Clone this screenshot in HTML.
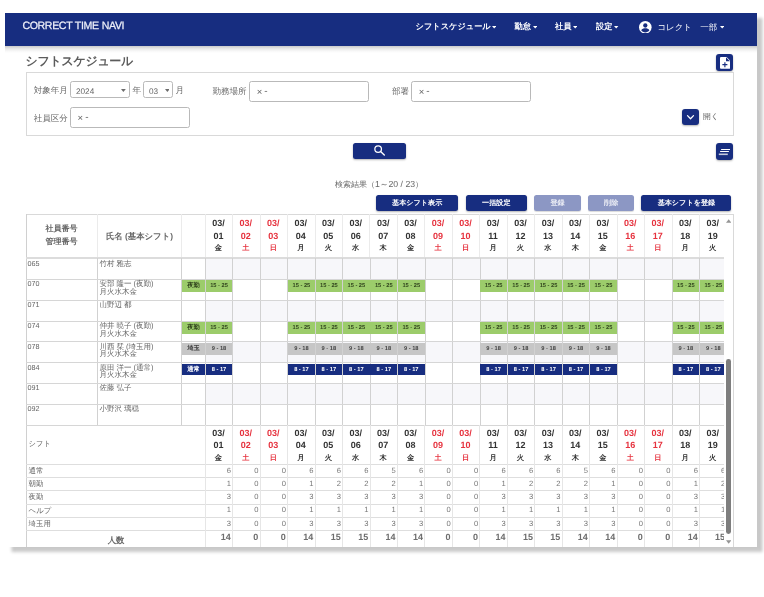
<!DOCTYPE html>
<html lang="ja"><head><meta charset="utf-8"><title>シフトスケジュール</title>
<style>
*{box-sizing:border-box}
html,body{margin:0;padding:0;background:#fff}
body{filter:blur(.35px);text-rendering:geometricPrecision;width:764px;height:597px;overflow:hidden;position:relative;font-family:"Liberation Sans",sans-serif;color:#666}
.a{position:absolute}
#frame{left:5px;top:13px;width:752.4px;height:534.4px;background:#fff;box-shadow:5.5px 5px 3px rgba(0,0,0,.215)}
#nav{left:5px;top:13px;width:752.4px;height:32.7px;background:#172d80}
#navsh{left:5px;top:45.7px;width:752.4px;height:7px;background:linear-gradient(rgba(0,0,0,.21),rgba(0,0,0,.1) 35%,rgba(0,0,0,.03) 70%,rgba(0,0,0,0))}
.nt{color:#fff;font-size:8.2px;font-weight:bold;line-height:10px;white-space:nowrap;top:21.8px}
.car{display:inline-block;width:0;height:0;border-left:2.5px solid transparent;border-right:2.5px solid transparent;border-top:2.9px solid #fff;vertical-align:middle;margin-left:1px}
#brand{left:22.4px;top:20.2px;color:#eceef8;font-size:10.6px;line-height:13px;letter-spacing:-.36px;word-spacing:.4px;-webkit-text-stroke:.25px #eceef8;white-space:nowrap}
#title{left:25.5px;top:53.6px;font-size:12px;font-weight:bold;color:#5c5c5c;line-height:15px;white-space:nowrap;letter-spacing:-.3px}
.ib{background:#172d80;border-radius:3px;box-shadow:0 1px 2px rgba(0,0,0,.3)}
#panel{left:26px;top:72px;width:708px;height:64px;border:1px solid #d9d9d9;background:#fff}
.lb{font-size:8.5px;line-height:10px;color:#666;white-space:nowrap}
.inp{border:1px solid #b9b9b9;border-radius:2.5px;background:#fff;font-size:7.5px;color:#666;line-height:10px;white-space:nowrap}
.btn{background:#172d80;border-radius:2.5px;color:#fff;font-size:7.1px;font-weight:bold;text-align:center;line-height:16px;height:16.2px;top:195px;white-space:nowrap;box-shadow:0 1px 2px rgba(0,0,0,.3)}
.btn.dis{color:rgba(255,255,255,.82);background:#8c97c4;box-shadow:0 1px 1px rgba(0,0,0,.15)}
.vl{width:1px;background:#d4d4d4}
.hl{height:1px;background:#d9d9d9}
.hd{font-size:9px;font-weight:bold;color:#333;text-align:center;line-height:12.3px;width:27.4px;white-space:nowrap}
.hd.r{color:#e6323e}
.hd i{font-style:normal;font-size:7.2px;position:relative;top:-1px}
.t{font-size:7.2px;line-height:7.6px;color:#666;white-space:nowrap}
.tag{font-weight:bold;font-size:5.7px;line-height:12.7px;height:11.8px;text-align:center;white-space:nowrap;overflow:hidden}
.g{background:#9ccc6b;color:#33471f}
.s{background:#c6c6c6;color:#444}
.n{background:#172d80;color:#fff}
.num{font-size:7.6px;line-height:10px;color:#777;text-align:right;white-space:nowrap}
.tot{font-size:9px;font-weight:bold;line-height:11px;color:#6e6e6e;text-align:right;white-space:nowrap}
.stripe{background:#f7f7fa}
</style></head>
<body>
<div class="a" id="frame"></div>
<div class="a" id="navsh"></div>
<div class="a" id="nav"></div>
<div class="a" id="brand">CORRECT TIME NAVI</div>
<div class="a nt" style="left:415.5px">シフトスケジュール</div>
<div class="a nt" style="left:514.5px">勤怠</div>
<div class="a nt" style="left:555px">社員</div>
<div class="a nt" style="left:596px">設定</div>
<svg class="a" style="left:491.6px;top:26px" width="4.4" height="2.6" viewBox="0 0 4.8 2.8"><path d="M0 0h4.8L2.4 2.8z" fill="#fff"/></svg>
<svg class="a" style="left:532.6px;top:26px" width="4.4" height="2.6" viewBox="0 0 4.8 2.8"><path d="M0 0h4.8L2.4 2.8z" fill="#fff"/></svg>
<svg class="a" style="left:573.1px;top:26px" width="4.4" height="2.6" viewBox="0 0 4.8 2.8"><path d="M0 0h4.8L2.4 2.8z" fill="#fff"/></svg>
<svg class="a" style="left:614.2px;top:26px" width="4.4" height="2.6" viewBox="0 0 4.8 2.8"><path d="M0 0h4.8L2.4 2.8z" fill="#fff"/></svg>
<svg class="a" style="left:720.1px;top:26px" width="4.4" height="2.6" viewBox="0 0 4.8 2.8"><path d="M0 0h4.8L2.4 2.8z" fill="#fff"/></svg>
<svg class="a" style="left:639.2px;top:20.5px" width="12.6" height="12.6" viewBox="0 0 24 24"><circle cx="12" cy="12" r="12" fill="#fff"/><circle cx="12" cy="8.6" r="4.1" fill="#172d80"/><path d="M4.2 17.6c1.6-2.7 4.6-3.7 7.8-3.7s6.2 1 7.8 3.7c-1.7 2.5-4.6 4.1-7.8 4.1s-6.1-1.6-7.8-4.1z" fill="#172d80"/></svg>
<div class="a nt" style="left:657.4px;font-weight:normal;font-size:8.45px;top:21.6px">コレクト　一部</div>
<div class="a" id="title">シフトスケジュール</div>
<div class="a ib" style="left:716px;top:54.4px;width:16.6px;height:16.6px"></div>
<svg class="a" style="left:719.6px;top:56.8px" width="10.2" height="11.8" viewBox="0 0 10.2 11.8"><path d="M1 0h5.6l3.6 3.6v7.2a1 1 0 0 1-1 1H1a1 1 0 0 1-1-1V1a1 1 0 0 1 1-1z" fill="#fff"/><path d="M6 0.3v3.9h3.9z" fill="#172d80"/><path d="M4.9 5.2v5M2.4 7.7h5" stroke="#172d80" stroke-width="1.15" fill="none"/></svg>
<div class="a" id="panel"></div>
<div class="a lb" style="left:33.8px;top:84.6px">対象年月</div>
<div class="a inp" style="left:70px;top:81.4px;width:59.6px;height:16.8px;padding:4.4px 0 0 5px;font-size:8.2px">2024</div>
<svg class="a" style="left:120.9px;top:88.7px" width="4.8" height="3" viewBox="0 0 4.8 3"><path d="M0 0h4.8L2.4 3z" fill="#6c6c6c"/></svg>
<div class="a lb" style="left:132.5px;top:84.6px">年</div>
<div class="a inp" style="left:143px;top:81.4px;width:30.2px;height:16.8px;padding:4.4px 0 0 5px;font-size:8.2px">03</div>
<svg class="a" style="left:164.6px;top:88.7px" width="4.8" height="3" viewBox="0 0 4.8 3"><path d="M0 0h4.8L2.4 3z" fill="#6c6c6c"/></svg>
<div class="a lb" style="left:175.5px;top:84.6px">月</div>
<div class="a lb" style="left:212.5px;top:86.2px">勤務場所</div>
<div class="a inp" style="left:249.2px;top:81.4px;width:119.6px;height:20.4px;padding:5.4px 0 0 6.6px"><span style="font-size:9.5px;line-height:9px;position:relative;top:.4px">×</span><span style="font-size:10px;line-height:9px;position:relative;top:-.5px;left:2px">-</span></div>
<div class="a lb" style="left:392px;top:86.2px">部署</div>
<div class="a inp" style="left:411.2px;top:81.4px;width:119.6px;height:20.4px;padding:5.4px 0 0 6.6px"><span style="font-size:9.5px;line-height:9px;position:relative;top:.4px">×</span><span style="font-size:10px;line-height:9px;position:relative;top:-.5px;left:2px">-</span></div>
<div class="a lb" style="left:33.8px;top:112.6px">社員区分</div>
<div class="a inp" style="left:70px;top:107px;width:119.6px;height:20.6px;padding:5.2px 0 0 6.6px"><span style="font-size:9.5px;line-height:9px;position:relative;top:.4px">×</span><span style="font-size:10px;line-height:9px;position:relative;top:-.5px;left:2px">-</span></div>
<div class="a ib" style="left:681.9px;top:108.8px;width:16.7px;height:16.4px"></div>
<svg class="a" style="left:685.9px;top:113.6px" width="9" height="7" viewBox="0 0 9 7"><path d="M1.5 1.6l3 3.2 3-3.2" stroke="#fff" stroke-width="1.25" fill="none" stroke-linecap="round" stroke-linejoin="round"/></svg>
<div class="a lb" style="left:703px;top:111.6px;font-size:7.8px;color:#666">開く</div>
<div class="a ib" style="left:353px;top:143px;width:53.2px;height:16px;border-radius:2.5px"></div>
<svg class="a" style="left:373.2px;top:144px" width="13" height="13" viewBox="0 0 13 13"><circle cx="5.15" cy="5.05" r="3.3" stroke="#fff" stroke-width="1.25" fill="none"/><path d="M7.6 7.5l3.7 3.5" stroke="#fff" stroke-width="1.4" stroke-linecap="round"/></svg>
<div class="a ib" style="left:716px;top:143px;width:16.6px;height:17px"></div>
<svg class="a" style="left:716px;top:143px" width="16.6" height="17" viewBox="0 0 16.6 17"><path d="M5.1 6.5h8.9M4.1 8.5h8.8" stroke="#fff" stroke-width="1.1"/><path d="M2.8 11.3h9" stroke="#c3c8dc" stroke-width="1.6"/></svg>
<div class="a lb" style="left:335px;top:178.8px;font-size:8px;color:#666">検索結果（<span style="font-size:8.7px">1～20 / 23</span>）</div>
<div class="a btn" style="left:376.2px;width:82px">基本シフト表示</div>
<div class="a btn" style="left:465.8px;width:61px">一括設定</div>
<div class="a btn dis" style="left:534.4px;width:46.4px">登録</div>
<div class="a btn dis" style="left:588px;width:46.4px">削除</div>
<div class="a btn" style="left:641.4px;width:90px">基本シフトを登録</div>
<div class="a stripe" style="left:205.2px;top:258.60px;width:521.1px;height:20.82px"></div>
<div class="a stripe" style="left:205.2px;top:300.24px;width:521.1px;height:20.82px"></div>
<div class="a stripe" style="left:205.2px;top:341.88px;width:521.1px;height:20.82px"></div>
<div class="a stripe" style="left:205.2px;top:383.52px;width:521.1px;height:20.82px"></div>
<div class="a hl" style="left:26px;top:214px;width:708px"></div>
<div class="a vl" style="left:26px;top:214px;height:333.4px;background:#d0d0d0"></div>
<div class="a vl" style="left:733.3px;top:214px;height:333.4px;background:#d9d9d9"></div>
<div class="a vl" style="left:96.80px;top:214px;height:43.5px;background:#ebebeb"></div>
<div class="a vl" style="left:180.50px;top:214px;height:43.5px;background:#ebebeb"></div>
<div class="a vl" style="left:204.70px;top:214px;height:43.5px;background:#ebebeb"></div>
<div class="a vl" style="left:232.16px;top:214px;height:43.5px;background:#ebebeb"></div>
<div class="a vl" style="left:259.62px;top:214px;height:43.5px;background:#ebebeb"></div>
<div class="a vl" style="left:287.08px;top:214px;height:43.5px;background:#ebebeb"></div>
<div class="a vl" style="left:314.54px;top:214px;height:43.5px;background:#ebebeb"></div>
<div class="a vl" style="left:342.00px;top:214px;height:43.5px;background:#ebebeb"></div>
<div class="a vl" style="left:369.46px;top:214px;height:43.5px;background:#ebebeb"></div>
<div class="a vl" style="left:396.92px;top:214px;height:43.5px;background:#ebebeb"></div>
<div class="a vl" style="left:424.38px;top:214px;height:43.5px;background:#ebebeb"></div>
<div class="a vl" style="left:451.84px;top:214px;height:43.5px;background:#ebebeb"></div>
<div class="a vl" style="left:479.30px;top:214px;height:43.5px;background:#ebebeb"></div>
<div class="a vl" style="left:506.76px;top:214px;height:43.5px;background:#ebebeb"></div>
<div class="a vl" style="left:534.22px;top:214px;height:43.5px;background:#ebebeb"></div>
<div class="a vl" style="left:561.68px;top:214px;height:43.5px;background:#ebebeb"></div>
<div class="a vl" style="left:589.14px;top:214px;height:43.5px;background:#ebebeb"></div>
<div class="a vl" style="left:616.60px;top:214px;height:43.5px;background:#ebebeb"></div>
<div class="a vl" style="left:644.06px;top:214px;height:43.5px;background:#ebebeb"></div>
<div class="a vl" style="left:671.52px;top:214px;height:43.5px;background:#ebebeb"></div>
<div class="a vl" style="left:698.98px;top:214px;height:43.5px;background:#ebebeb"></div>
<div class="a" style="left:26px;top:256.8px;width:700.3px;height:2px;background:#dcdcdc"></div>
<div class="a vl" style="left:97.20px;top:258px;height:167px;background:#d1d1d1"></div>
<div class="a vl" style="left:180.95px;top:258px;height:167px;background:#d1d1d1"></div>
<div class="a vl" style="left:204.90px;top:258px;height:167px;background:#d1d1d1"></div>
<div class="a vl" style="left:232.36px;top:258px;height:167px;background:#d1d1d1"></div>
<div class="a vl" style="left:259.82px;top:258px;height:167px;background:#d1d1d1"></div>
<div class="a vl" style="left:287.28px;top:258px;height:167px;background:#d1d1d1"></div>
<div class="a vl" style="left:314.74px;top:258px;height:167px;background:#d1d1d1"></div>
<div class="a vl" style="left:342.20px;top:258px;height:167px;background:#d1d1d1"></div>
<div class="a vl" style="left:369.66px;top:258px;height:167px;background:#d1d1d1"></div>
<div class="a vl" style="left:397.12px;top:258px;height:167px;background:#d1d1d1"></div>
<div class="a vl" style="left:424.58px;top:258px;height:167px;background:#d1d1d1"></div>
<div class="a vl" style="left:452.04px;top:258px;height:167px;background:#d1d1d1"></div>
<div class="a vl" style="left:479.50px;top:258px;height:167px;background:#d1d1d1"></div>
<div class="a vl" style="left:506.96px;top:258px;height:167px;background:#d1d1d1"></div>
<div class="a vl" style="left:534.42px;top:258px;height:167px;background:#d1d1d1"></div>
<div class="a vl" style="left:561.88px;top:258px;height:167px;background:#d1d1d1"></div>
<div class="a vl" style="left:589.34px;top:258px;height:167px;background:#d1d1d1"></div>
<div class="a vl" style="left:616.80px;top:258px;height:167px;background:#d1d1d1"></div>
<div class="a vl" style="left:644.26px;top:258px;height:167px;background:#d1d1d1"></div>
<div class="a vl" style="left:671.72px;top:258px;height:167px;background:#d1d1d1"></div>
<div class="a vl" style="left:699.18px;top:258px;height:167px;background:#d1d1d1"></div>
<div class="a hl" style="left:26px;top:278.92px;width:700.3px;background:#d6d6d6"></div>
<div class="a hl" style="left:26px;top:299.74px;width:700.3px;background:#d6d6d6"></div>
<div class="a hl" style="left:26px;top:320.56px;width:700.3px;background:#d6d6d6"></div>
<div class="a hl" style="left:26px;top:341.38px;width:700.3px;background:#d6d6d6"></div>
<div class="a hl" style="left:26px;top:362.20px;width:700.3px;background:#d6d6d6"></div>
<div class="a hl" style="left:26px;top:383.02px;width:700.3px;background:#d6d6d6"></div>
<div class="a hl" style="left:26px;top:403.84px;width:700.3px;background:#d6d6d6"></div>
<div class="a hl" style="left:26px;top:424.66px;width:700.3px;background:#d6d6d6"></div>
<div class="a" style="left:26px;top:223.4px;width:71px;text-align:center;font-size:8px;font-weight:bold;color:#686868;line-height:12.4px">社員番号<br>管理番号</div>
<div class="a" style="left:97.5px;top:229.6px;width:84px;text-align:center;font-size:8.4px;font-weight:bold;color:#686868;line-height:12.4px;white-space:nowrap">氏名 (基本シフト)</div>
<div class="a hd" style="left:204.70px;top:217.4px">03/<br>01<br><i>金</i></div>
<div class="a hd r" style="left:232.16px;top:217.4px">03/<br>02<br><i>土</i></div>
<div class="a hd r" style="left:259.62px;top:217.4px">03/<br>03<br><i>日</i></div>
<div class="a hd" style="left:287.08px;top:217.4px">03/<br>04<br><i>月</i></div>
<div class="a hd" style="left:314.54px;top:217.4px">03/<br>05<br><i>火</i></div>
<div class="a hd" style="left:342.00px;top:217.4px">03/<br>06<br><i>水</i></div>
<div class="a hd" style="left:369.46px;top:217.4px">03/<br>07<br><i>木</i></div>
<div class="a hd" style="left:396.92px;top:217.4px">03/<br>08<br><i>金</i></div>
<div class="a hd r" style="left:424.38px;top:217.4px">03/<br>09<br><i>土</i></div>
<div class="a hd r" style="left:451.84px;top:217.4px">03/<br>10<br><i>日</i></div>
<div class="a hd" style="left:479.30px;top:217.4px">03/<br>11<br><i>月</i></div>
<div class="a hd" style="left:506.76px;top:217.4px">03/<br>12<br><i>火</i></div>
<div class="a hd" style="left:534.22px;top:217.4px">03/<br>13<br><i>水</i></div>
<div class="a hd" style="left:561.68px;top:217.4px">03/<br>14<br><i>木</i></div>
<div class="a hd" style="left:589.14px;top:217.4px">03/<br>15<br><i>金</i></div>
<div class="a hd r" style="left:616.60px;top:217.4px">03/<br>16<br><i>土</i></div>
<div class="a hd r" style="left:644.06px;top:217.4px">03/<br>17<br><i>日</i></div>
<div class="a hd" style="left:671.52px;top:217.4px">03/<br>18<br><i>月</i></div>
<div class="a hd" style="left:698.98px;top:217.4px">03/<br>19<br><i>火</i></div>
<div class="a t" style="left:27.6px;top:259.50px">065</div>
<div class="a t" style="left:99.4px;top:259.50px;font-size:7.5px">竹村 雅志</div>
<div class="a t" style="left:27.6px;top:280.32px">070</div>
<div class="a t" style="left:99.4px;top:280.32px;font-size:7.5px">安部 隆一 (夜勤)<br>月火水木金</div>
<div class="a tag g" style="left:181.90px;top:280.42px;width:23.10px;font-size:6.3px">夜勤</div>
<div class="a tag g" style="left:205.70px;top:280.42px;width:26.66px">15 - 25</div>
<div class="a tag g" style="left:288.08px;top:280.42px;width:26.66px">15 - 25</div>
<div class="a tag g" style="left:315.54px;top:280.42px;width:26.66px">15 - 25</div>
<div class="a tag g" style="left:343.00px;top:280.42px;width:26.66px">15 - 25</div>
<div class="a tag g" style="left:370.46px;top:280.42px;width:26.66px">15 - 25</div>
<div class="a tag g" style="left:397.92px;top:280.42px;width:26.66px">15 - 25</div>
<div class="a tag g" style="left:480.30px;top:280.42px;width:26.66px">15 - 25</div>
<div class="a tag g" style="left:507.76px;top:280.42px;width:26.66px">15 - 25</div>
<div class="a tag g" style="left:535.22px;top:280.42px;width:26.66px">15 - 25</div>
<div class="a tag g" style="left:562.68px;top:280.42px;width:26.66px">15 - 25</div>
<div class="a tag g" style="left:590.14px;top:280.42px;width:26.66px">15 - 25</div>
<div class="a tag g" style="left:672.52px;top:280.42px;width:26.66px">15 - 25</div>
<div class="a tag g" style="left:699.98px;top:280.42px;width:26.66px">15 - 25</div>
<div class="a t" style="left:27.6px;top:301.14px">071</div>
<div class="a t" style="left:99.4px;top:301.14px;font-size:7.5px">山野辺 都</div>
<div class="a t" style="left:27.6px;top:321.96px">074</div>
<div class="a t" style="left:99.4px;top:321.96px;font-size:7.5px">仲井 暁子 (夜勤)<br>月火水木金</div>
<div class="a tag g" style="left:181.90px;top:322.06px;width:23.10px;font-size:6.3px">夜勤</div>
<div class="a tag g" style="left:205.70px;top:322.06px;width:26.66px">15 - 25</div>
<div class="a tag g" style="left:288.08px;top:322.06px;width:26.66px">15 - 25</div>
<div class="a tag g" style="left:315.54px;top:322.06px;width:26.66px">15 - 25</div>
<div class="a tag g" style="left:343.00px;top:322.06px;width:26.66px">15 - 25</div>
<div class="a tag g" style="left:370.46px;top:322.06px;width:26.66px">15 - 25</div>
<div class="a tag g" style="left:397.92px;top:322.06px;width:26.66px">15 - 25</div>
<div class="a tag g" style="left:480.30px;top:322.06px;width:26.66px">15 - 25</div>
<div class="a tag g" style="left:507.76px;top:322.06px;width:26.66px">15 - 25</div>
<div class="a tag g" style="left:535.22px;top:322.06px;width:26.66px">15 - 25</div>
<div class="a tag g" style="left:562.68px;top:322.06px;width:26.66px">15 - 25</div>
<div class="a tag g" style="left:590.14px;top:322.06px;width:26.66px">15 - 25</div>
<div class="a tag g" style="left:672.52px;top:322.06px;width:26.66px">15 - 25</div>
<div class="a tag g" style="left:699.98px;top:322.06px;width:26.66px">15 - 25</div>
<div class="a t" style="left:27.6px;top:342.78px">078</div>
<div class="a t" style="left:99.4px;top:342.78px;font-size:7.5px">川西 栞 (埼玉用)<br>月火水木金</div>
<div class="a tag s" style="left:181.90px;top:342.88px;width:23.10px;font-size:6.3px">埼玉</div>
<div class="a tag s" style="left:205.70px;top:342.88px;width:26.66px">9 - 18</div>
<div class="a tag s" style="left:288.08px;top:342.88px;width:26.66px">9 - 18</div>
<div class="a tag s" style="left:315.54px;top:342.88px;width:26.66px">9 - 18</div>
<div class="a tag s" style="left:343.00px;top:342.88px;width:26.66px">9 - 18</div>
<div class="a tag s" style="left:370.46px;top:342.88px;width:26.66px">9 - 18</div>
<div class="a tag s" style="left:397.92px;top:342.88px;width:26.66px">9 - 18</div>
<div class="a tag s" style="left:480.30px;top:342.88px;width:26.66px">9 - 18</div>
<div class="a tag s" style="left:507.76px;top:342.88px;width:26.66px">9 - 18</div>
<div class="a tag s" style="left:535.22px;top:342.88px;width:26.66px">9 - 18</div>
<div class="a tag s" style="left:562.68px;top:342.88px;width:26.66px">9 - 18</div>
<div class="a tag s" style="left:590.14px;top:342.88px;width:26.66px">9 - 18</div>
<div class="a tag s" style="left:672.52px;top:342.88px;width:26.66px">9 - 18</div>
<div class="a tag s" style="left:699.98px;top:342.88px;width:26.66px">9 - 18</div>
<div class="a t" style="left:27.6px;top:363.60px">084</div>
<div class="a t" style="left:99.4px;top:363.60px;font-size:7.5px">原田 洋一 (通常)<br>月火水木金</div>
<div class="a tag n" style="left:181.90px;top:363.70px;width:23.10px;font-size:6.3px">通常</div>
<div class="a tag n" style="left:205.70px;top:363.70px;width:26.66px">8 - 17</div>
<div class="a tag n" style="left:288.08px;top:363.70px;width:26.66px">8 - 17</div>
<div class="a tag n" style="left:315.54px;top:363.70px;width:26.66px">8 - 17</div>
<div class="a tag n" style="left:343.00px;top:363.70px;width:26.66px">8 - 17</div>
<div class="a tag n" style="left:370.46px;top:363.70px;width:26.66px">8 - 17</div>
<div class="a tag n" style="left:397.92px;top:363.70px;width:26.66px">8 - 17</div>
<div class="a tag n" style="left:480.30px;top:363.70px;width:26.66px">8 - 17</div>
<div class="a tag n" style="left:507.76px;top:363.70px;width:26.66px">8 - 17</div>
<div class="a tag n" style="left:535.22px;top:363.70px;width:26.66px">8 - 17</div>
<div class="a tag n" style="left:562.68px;top:363.70px;width:26.66px">8 - 17</div>
<div class="a tag n" style="left:590.14px;top:363.70px;width:26.66px">8 - 17</div>
<div class="a tag n" style="left:672.52px;top:363.70px;width:26.66px">8 - 17</div>
<div class="a tag n" style="left:699.98px;top:363.70px;width:26.66px">8 - 17</div>
<div class="a t" style="left:27.6px;top:384.42px">091</div>
<div class="a t" style="left:99.4px;top:384.42px;font-size:7.5px">佐藤 弘子</div>
<div class="a t" style="left:27.6px;top:405.24px">092</div>
<div class="a t" style="left:99.4px;top:405.24px;font-size:7.5px">小野沢 璃穏</div>
<div class="a hl" style="left:26px;top:424.6px;width:700.3px;background:#d6d6d6"></div>
<div class="a hl" style="left:26px;top:463.75px;width:700.3px;background:#dedede"></div>
<div class="a hl" style="left:26px;top:477.00px;width:700.3px;background:#dedede"></div>
<div class="a hl" style="left:26px;top:490.25px;width:700.3px;background:#dedede"></div>
<div class="a hl" style="left:26px;top:503.50px;width:700.3px;background:#dedede"></div>
<div class="a hl" style="left:26px;top:516.75px;width:700.3px;background:#dedede"></div>
<div class="a hl" style="left:26px;top:530.00px;width:700.3px;background:#dedede"></div>
<div class="a vl" style="left:204.80px;top:425px;height:122.4px;background:#e6e6e6"></div>
<div class="a vl" style="left:232.26px;top:425px;height:122.4px;background:#e6e6e6"></div>
<div class="a vl" style="left:259.72px;top:425px;height:122.4px;background:#e6e6e6"></div>
<div class="a vl" style="left:287.18px;top:425px;height:122.4px;background:#e6e6e6"></div>
<div class="a vl" style="left:314.64px;top:425px;height:122.4px;background:#e6e6e6"></div>
<div class="a vl" style="left:342.10px;top:425px;height:122.4px;background:#e6e6e6"></div>
<div class="a vl" style="left:369.56px;top:425px;height:122.4px;background:#e6e6e6"></div>
<div class="a vl" style="left:397.02px;top:425px;height:122.4px;background:#e6e6e6"></div>
<div class="a vl" style="left:424.48px;top:425px;height:122.4px;background:#e6e6e6"></div>
<div class="a vl" style="left:451.94px;top:425px;height:122.4px;background:#e6e6e6"></div>
<div class="a vl" style="left:479.40px;top:425px;height:122.4px;background:#e6e6e6"></div>
<div class="a vl" style="left:506.86px;top:425px;height:122.4px;background:#e6e6e6"></div>
<div class="a vl" style="left:534.32px;top:425px;height:122.4px;background:#e6e6e6"></div>
<div class="a vl" style="left:561.78px;top:425px;height:122.4px;background:#e6e6e6"></div>
<div class="a vl" style="left:589.24px;top:425px;height:122.4px;background:#e6e6e6"></div>
<div class="a vl" style="left:616.70px;top:425px;height:122.4px;background:#e6e6e6"></div>
<div class="a vl" style="left:644.16px;top:425px;height:122.4px;background:#e6e6e6"></div>
<div class="a vl" style="left:671.62px;top:425px;height:122.4px;background:#e6e6e6"></div>
<div class="a vl" style="left:699.08px;top:425px;height:122.4px;background:#e6e6e6"></div>
<div class="a t" style="left:28.6px;top:439px;font-size:7.3px;line-height:9px">シフト</div>
<div class="a hd" style="left:204.70px;top:427px">03/<br>01<br><i>金</i></div>
<div class="a hd r" style="left:232.16px;top:427px">03/<br>02<br><i>土</i></div>
<div class="a hd r" style="left:259.62px;top:427px">03/<br>03<br><i>日</i></div>
<div class="a hd" style="left:287.08px;top:427px">03/<br>04<br><i>月</i></div>
<div class="a hd" style="left:314.54px;top:427px">03/<br>05<br><i>火</i></div>
<div class="a hd" style="left:342.00px;top:427px">03/<br>06<br><i>水</i></div>
<div class="a hd" style="left:369.46px;top:427px">03/<br>07<br><i>木</i></div>
<div class="a hd" style="left:396.92px;top:427px">03/<br>08<br><i>金</i></div>
<div class="a hd r" style="left:424.38px;top:427px">03/<br>09<br><i>土</i></div>
<div class="a hd r" style="left:451.84px;top:427px">03/<br>10<br><i>日</i></div>
<div class="a hd" style="left:479.30px;top:427px">03/<br>11<br><i>月</i></div>
<div class="a hd" style="left:506.76px;top:427px">03/<br>12<br><i>火</i></div>
<div class="a hd" style="left:534.22px;top:427px">03/<br>13<br><i>水</i></div>
<div class="a hd" style="left:561.68px;top:427px">03/<br>14<br><i>木</i></div>
<div class="a hd" style="left:589.14px;top:427px">03/<br>15<br><i>金</i></div>
<div class="a hd r" style="left:616.60px;top:427px">03/<br>16<br><i>土</i></div>
<div class="a hd r" style="left:644.06px;top:427px">03/<br>17<br><i>日</i></div>
<div class="a hd" style="left:671.52px;top:427px">03/<br>18<br><i>月</i></div>
<div class="a hd" style="left:698.98px;top:427px">03/<br>19<br><i>火</i></div>
<div class="a t" style="left:28.6px;top:465.85px;font-size:7.4px;line-height:9px">通常</div>
<div class="a num" style="left:205.20px;top:465.65px;width:25.86px">6</div>
<div class="a num" style="left:232.66px;top:465.65px;width:25.86px">0</div>
<div class="a num" style="left:260.12px;top:465.65px;width:25.86px">0</div>
<div class="a num" style="left:287.58px;top:465.65px;width:25.86px">6</div>
<div class="a num" style="left:315.04px;top:465.65px;width:25.86px">6</div>
<div class="a num" style="left:342.50px;top:465.65px;width:25.86px">6</div>
<div class="a num" style="left:369.96px;top:465.65px;width:25.86px">5</div>
<div class="a num" style="left:397.42px;top:465.65px;width:25.86px">6</div>
<div class="a num" style="left:424.88px;top:465.65px;width:25.86px">0</div>
<div class="a num" style="left:452.34px;top:465.65px;width:25.86px">0</div>
<div class="a num" style="left:479.80px;top:465.65px;width:25.86px">6</div>
<div class="a num" style="left:507.26px;top:465.65px;width:25.86px">6</div>
<div class="a num" style="left:534.72px;top:465.65px;width:25.86px">6</div>
<div class="a num" style="left:562.18px;top:465.65px;width:25.86px">5</div>
<div class="a num" style="left:589.64px;top:465.65px;width:25.86px">6</div>
<div class="a num" style="left:617.10px;top:465.65px;width:25.86px">0</div>
<div class="a num" style="left:644.56px;top:465.65px;width:25.86px">0</div>
<div class="a num" style="left:672.02px;top:465.65px;width:25.86px">6</div>
<div class="a num" style="left:699.48px;top:465.65px;width:25.86px">6</div>
<div class="a t" style="left:28.6px;top:479.10px;font-size:7.4px;line-height:9px">朝勤</div>
<div class="a num" style="left:205.20px;top:478.90px;width:25.86px">1</div>
<div class="a num" style="left:232.66px;top:478.90px;width:25.86px">0</div>
<div class="a num" style="left:260.12px;top:478.90px;width:25.86px">0</div>
<div class="a num" style="left:287.58px;top:478.90px;width:25.86px">1</div>
<div class="a num" style="left:315.04px;top:478.90px;width:25.86px">2</div>
<div class="a num" style="left:342.50px;top:478.90px;width:25.86px">2</div>
<div class="a num" style="left:369.96px;top:478.90px;width:25.86px">2</div>
<div class="a num" style="left:397.42px;top:478.90px;width:25.86px">1</div>
<div class="a num" style="left:424.88px;top:478.90px;width:25.86px">0</div>
<div class="a num" style="left:452.34px;top:478.90px;width:25.86px">0</div>
<div class="a num" style="left:479.80px;top:478.90px;width:25.86px">1</div>
<div class="a num" style="left:507.26px;top:478.90px;width:25.86px">2</div>
<div class="a num" style="left:534.72px;top:478.90px;width:25.86px">2</div>
<div class="a num" style="left:562.18px;top:478.90px;width:25.86px">2</div>
<div class="a num" style="left:589.64px;top:478.90px;width:25.86px">1</div>
<div class="a num" style="left:617.10px;top:478.90px;width:25.86px">0</div>
<div class="a num" style="left:644.56px;top:478.90px;width:25.86px">0</div>
<div class="a num" style="left:672.02px;top:478.90px;width:25.86px">1</div>
<div class="a num" style="left:699.48px;top:478.90px;width:25.86px">2</div>
<div class="a t" style="left:28.6px;top:492.35px;font-size:7.4px;line-height:9px">夜勤</div>
<div class="a num" style="left:205.20px;top:492.15px;width:25.86px">3</div>
<div class="a num" style="left:232.66px;top:492.15px;width:25.86px">0</div>
<div class="a num" style="left:260.12px;top:492.15px;width:25.86px">0</div>
<div class="a num" style="left:287.58px;top:492.15px;width:25.86px">3</div>
<div class="a num" style="left:315.04px;top:492.15px;width:25.86px">3</div>
<div class="a num" style="left:342.50px;top:492.15px;width:25.86px">3</div>
<div class="a num" style="left:369.96px;top:492.15px;width:25.86px">3</div>
<div class="a num" style="left:397.42px;top:492.15px;width:25.86px">3</div>
<div class="a num" style="left:424.88px;top:492.15px;width:25.86px">0</div>
<div class="a num" style="left:452.34px;top:492.15px;width:25.86px">0</div>
<div class="a num" style="left:479.80px;top:492.15px;width:25.86px">3</div>
<div class="a num" style="left:507.26px;top:492.15px;width:25.86px">3</div>
<div class="a num" style="left:534.72px;top:492.15px;width:25.86px">3</div>
<div class="a num" style="left:562.18px;top:492.15px;width:25.86px">3</div>
<div class="a num" style="left:589.64px;top:492.15px;width:25.86px">3</div>
<div class="a num" style="left:617.10px;top:492.15px;width:25.86px">0</div>
<div class="a num" style="left:644.56px;top:492.15px;width:25.86px">0</div>
<div class="a num" style="left:672.02px;top:492.15px;width:25.86px">3</div>
<div class="a num" style="left:699.48px;top:492.15px;width:25.86px">3</div>
<div class="a t" style="left:28.6px;top:505.60px;font-size:7.4px;line-height:9px">ヘルプ</div>
<div class="a num" style="left:205.20px;top:505.40px;width:25.86px">1</div>
<div class="a num" style="left:232.66px;top:505.40px;width:25.86px">0</div>
<div class="a num" style="left:260.12px;top:505.40px;width:25.86px">0</div>
<div class="a num" style="left:287.58px;top:505.40px;width:25.86px">1</div>
<div class="a num" style="left:315.04px;top:505.40px;width:25.86px">1</div>
<div class="a num" style="left:342.50px;top:505.40px;width:25.86px">1</div>
<div class="a num" style="left:369.96px;top:505.40px;width:25.86px">1</div>
<div class="a num" style="left:397.42px;top:505.40px;width:25.86px">1</div>
<div class="a num" style="left:424.88px;top:505.40px;width:25.86px">0</div>
<div class="a num" style="left:452.34px;top:505.40px;width:25.86px">0</div>
<div class="a num" style="left:479.80px;top:505.40px;width:25.86px">1</div>
<div class="a num" style="left:507.26px;top:505.40px;width:25.86px">1</div>
<div class="a num" style="left:534.72px;top:505.40px;width:25.86px">1</div>
<div class="a num" style="left:562.18px;top:505.40px;width:25.86px">1</div>
<div class="a num" style="left:589.64px;top:505.40px;width:25.86px">1</div>
<div class="a num" style="left:617.10px;top:505.40px;width:25.86px">0</div>
<div class="a num" style="left:644.56px;top:505.40px;width:25.86px">0</div>
<div class="a num" style="left:672.02px;top:505.40px;width:25.86px">1</div>
<div class="a num" style="left:699.48px;top:505.40px;width:25.86px">1</div>
<div class="a t" style="left:28.6px;top:518.85px;font-size:7.4px;line-height:9px">埼玉用</div>
<div class="a num" style="left:205.20px;top:518.65px;width:25.86px">3</div>
<div class="a num" style="left:232.66px;top:518.65px;width:25.86px">0</div>
<div class="a num" style="left:260.12px;top:518.65px;width:25.86px">0</div>
<div class="a num" style="left:287.58px;top:518.65px;width:25.86px">3</div>
<div class="a num" style="left:315.04px;top:518.65px;width:25.86px">3</div>
<div class="a num" style="left:342.50px;top:518.65px;width:25.86px">3</div>
<div class="a num" style="left:369.96px;top:518.65px;width:25.86px">3</div>
<div class="a num" style="left:397.42px;top:518.65px;width:25.86px">3</div>
<div class="a num" style="left:424.88px;top:518.65px;width:25.86px">0</div>
<div class="a num" style="left:452.34px;top:518.65px;width:25.86px">0</div>
<div class="a num" style="left:479.80px;top:518.65px;width:25.86px">3</div>
<div class="a num" style="left:507.26px;top:518.65px;width:25.86px">3</div>
<div class="a num" style="left:534.72px;top:518.65px;width:25.86px">3</div>
<div class="a num" style="left:562.18px;top:518.65px;width:25.86px">3</div>
<div class="a num" style="left:589.64px;top:518.65px;width:25.86px">3</div>
<div class="a num" style="left:617.10px;top:518.65px;width:25.86px">0</div>
<div class="a num" style="left:644.56px;top:518.65px;width:25.86px">0</div>
<div class="a num" style="left:672.02px;top:518.65px;width:25.86px">3</div>
<div class="a num" style="left:699.48px;top:518.65px;width:25.86px">3</div>
<div class="a" style="left:26px;top:533.6px;width:180px;text-align:center;font-size:8.4px;font-weight:bold;color:#666;line-height:12px">人数</div>
<div class="a tot" style="left:205.20px;top:532.20px;width:25.66px">14</div>
<div class="a tot" style="left:232.66px;top:532.20px;width:25.66px">0</div>
<div class="a tot" style="left:260.12px;top:532.20px;width:25.66px">0</div>
<div class="a tot" style="left:287.58px;top:532.20px;width:25.66px">14</div>
<div class="a tot" style="left:315.04px;top:532.20px;width:25.66px">15</div>
<div class="a tot" style="left:342.50px;top:532.20px;width:25.66px">15</div>
<div class="a tot" style="left:369.96px;top:532.20px;width:25.66px">14</div>
<div class="a tot" style="left:397.42px;top:532.20px;width:25.66px">14</div>
<div class="a tot" style="left:424.88px;top:532.20px;width:25.66px">0</div>
<div class="a tot" style="left:452.34px;top:532.20px;width:25.66px">0</div>
<div class="a tot" style="left:479.80px;top:532.20px;width:25.66px">14</div>
<div class="a tot" style="left:507.26px;top:532.20px;width:25.66px">15</div>
<div class="a tot" style="left:534.72px;top:532.20px;width:25.66px">15</div>
<div class="a tot" style="left:562.18px;top:532.20px;width:25.66px">14</div>
<div class="a tot" style="left:589.64px;top:532.20px;width:25.66px">14</div>
<div class="a tot" style="left:617.10px;top:532.20px;width:25.66px">0</div>
<div class="a tot" style="left:644.56px;top:532.20px;width:25.66px">0</div>
<div class="a tot" style="left:672.02px;top:532.20px;width:25.66px">14</div>
<div class="a tot" style="left:699.48px;top:532.20px;width:25.66px">15</div>
<div class="a" style="left:724.4px;top:215px;width:8.9px;height:332.4px;background:#fff"></div>
<div class="a" style="left:726px;top:359px;width:4.8px;height:175.4px;background:#7e7e7e;border-radius:2.4px"></div>
<svg class="a" style="left:725.8px;top:219.2px" width="5.4" height="4" viewBox="0 0 6.4 4.4"><path d="M0 4.4L3.2 0l3.2 4.4z" fill="#959595"/></svg>
<svg class="a" style="left:725.8px;top:539.7px" width="5.4" height="4" viewBox="0 0 6.4 4.4"><path d="M0 0h6.4L3.2 4.4z" fill="#959595"/></svg>
</body></html>
